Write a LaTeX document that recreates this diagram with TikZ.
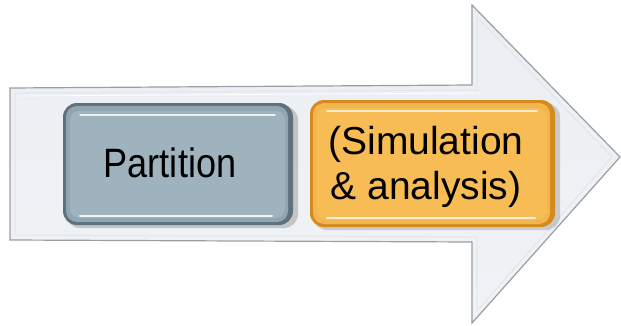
\documentclass[tikz,border=0pt]{standalone}
\usepackage{fontspec}
\setmainfont{Liberation Sans}
\usetikzlibrary{calc}
\definecolor{arrowfill}{HTML}{E6EBF0}
\definecolor{arrowline}{HTML}{9A9EA3}
\definecolor{slaterim}{HTML}{5E717C}
\definecolor{slatefill}{HTML}{9FB3BE}
\definecolor{amberrim}{HTML}{D48A1E}
\definecolor{amberfill}{HTML}{F8BC55}
\tikzset{
  bevelbox/.style={rounded corners=14pt, line width=0pt},
  label/.style={text=black, align=center, inner sep=0pt}
}
\begin{document}
\begin{tikzpicture}[x=1pt,y=1pt]
  \useasboundingbox (0,0) rectangle (621,325);
  % big arrow outline
  \coordinate (stl) at (10,237);
  \coordinate (str) at (472,240);
  \coordinate (htop) at (472,320);
  \coordinate (tip) at (620,168);
  \coordinate (hbot) at (472,2);
  \coordinate (sbr) at (472,83);
  \coordinate (sbl) at (10,85);
  \path[top color=arrowfill!80!white, bottom color=arrowfill!60!white, draw=arrowline, line width=1.2pt, line join=miter]
    (stl) -- (str) -- (htop) -- (tip) -- (hbot) -- (sbr) -- (sbl) -- cycle;
  % inner bevel line
  \draw[white!75!arrowline, line width=1.4pt, line join=miter]
    (15,232) -- (477,235) -- (477,308) -- (612,168) -- (477,14) -- (477,88) -- (15,90) -- cycle;
  \draw[white, line width=0.8pt, line join=miter]
    (18,229) -- (480,232);

  % slate box
  \fill[black!55, opacity=0.35, bevelbox] (66,97) rectangle (298,219);
  \fill[slaterim, bevelbox] (63,100) rectangle (293,222);
  \fill[slatefill!80!slaterim, rounded corners=11pt] (66,103) rectangle (288,219);
  \fill[slatefill, rounded corners=9pt] (70,107) rectangle (285,214);
  \draw[white!80!slatefill, line width=1.5pt, line cap=round] (80,210) -- (275,210);
  \draw[white!85!slatefill, line width=2pt, line cap=round] (80,109) -- (272,109);
  \node[label, font=\fontsize{41}{45}\selectfont] (part) at (170,162) {\scalebox{0.88}[1]{Partition}};

  % amber box
  \fill[black!55, opacity=0.30, bevelbox] (313,95) rectangle (560,222);
  \fill[amberrim, bevelbox] (310,98) rectangle (555,225);
  \fill[amberfill!85!amberrim, rounded corners=11pt] (313,101) rectangle (550,222);
  \fill[amberfill, rounded corners=9pt] (317,105) rectangle (547,217);
  \draw[white!70!amberfill, line width=1.5pt, line cap=round] (327,214) -- (537,214);
  \draw[white!75!amberfill, line width=2pt, line cap=round] (327,107) -- (535,107);
  \node[label, font=\fontsize{39}{45}\selectfont] (sim) at (426,158) {(Simulation\\\& analysis)};
\end{tikzpicture}
\end{document}
